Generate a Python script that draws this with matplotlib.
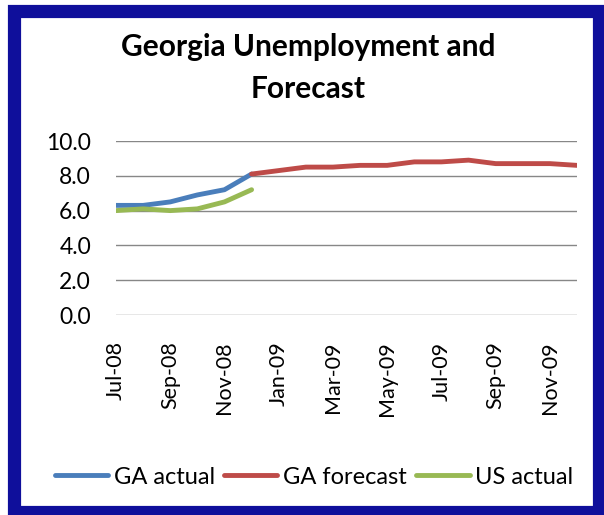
import matplotlib.pyplot as plt
from matplotlib.patches import Rectangle

months = ['Jul-08', 'Aug-08', 'Sep-08', 'Oct-08', 'Nov-08', 'Dec-08',
          'Jan-09', 'Feb-09', 'Mar-09', 'Apr-09', 'May-09', 'Jun-09',
          'Jul-09', 'Aug-09', 'Sep-09', 'Oct-09', 'Nov-09', 'Dec-09']
ga_actual = [6.3, 6.3, 6.5, 6.9, 7.2, 8.1]
ga_forecast = [8.1, 8.3, 8.5, 8.5, 8.6, 8.6, 8.8, 8.8, 8.9, 8.7, 8.7, 8.7, 8.6]
us_actual = [6.0, 6.1, 6.0, 6.1, 6.5, 7.2]
y_ticks = [0, 2, 4, 6, 8, 10]

font = ['Lato', 'DejaVu Sans']
plt.rcParams['font.family'] = font

fig = plt.figure(figsize=(6.04, 5.15), dpi=100)
# dark blue frame round the chart
fig.patches.append(Rectangle((13.5 / 604, 1 - 511.5 / 515), 585 / 604, 501 / 515,
                             transform=fig.transFigure, fill=False,
                             edgecolor='#0f0f9b', linewidth=9.5, zorder=0))

ax = fig.add_axes([116 / 604, 1 - 315 / 515, 461 / 604, 174 / 515])
x = list(range(len(months)))
start_fc = len(ga_actual) - 1
ax.plot(x[:len(ga_actual)], ga_actual, color='#4a7ebb', lw=3.5, solid_capstyle='round',
        label='GA actual')
ax.plot(x[start_fc:start_fc + len(ga_forecast)], ga_forecast, color='#be4b48', lw=3.5,
        solid_capstyle='round', label='GA forecast')
ax.plot(x[:len(us_actual)], us_actual, color='#98b954', lw=3.5, solid_capstyle='round',
        label='US actual')

ax.set_xlim(0, len(months) - 1)
ax.set_ylim(0, 10)
ax.set_yticks(y_ticks)
ax.set_yticklabels(['%.1f' % v for v in y_ticks], fontsize=16.5)
ax.set_xticks(x[::2])
ax.set_xticklabels(months[::2], rotation=90, fontsize=15.5)
ax.tick_params(length=0)
ax.tick_params(axis='y', pad=18)
ax.tick_params(axis='x', pad=19)
ax.grid(axis='y', color='#878787', lw=1)
ax.set_axisbelow(True)
for s in ax.spines.values():
    s.set_visible(False)

fig.text(0.51, 1 - 33 / 515, 'Georgia Unemployment and\nForecast', ha='center',
         va='top', fontsize=21.5, fontweight='bold', linespacing=1.6)

leg = fig.legend(loc='center', bbox_to_anchor=(0.52, 1 - 477 / 515), ncol=3, frameon=False,
                 fontsize=17, handlelength=2.25, handletextpad=0.25, columnspacing=0.4)
for h in leg.get_lines():
    h.set_linewidth(3.5)

fig.savefig('out.png', dpi=100)
